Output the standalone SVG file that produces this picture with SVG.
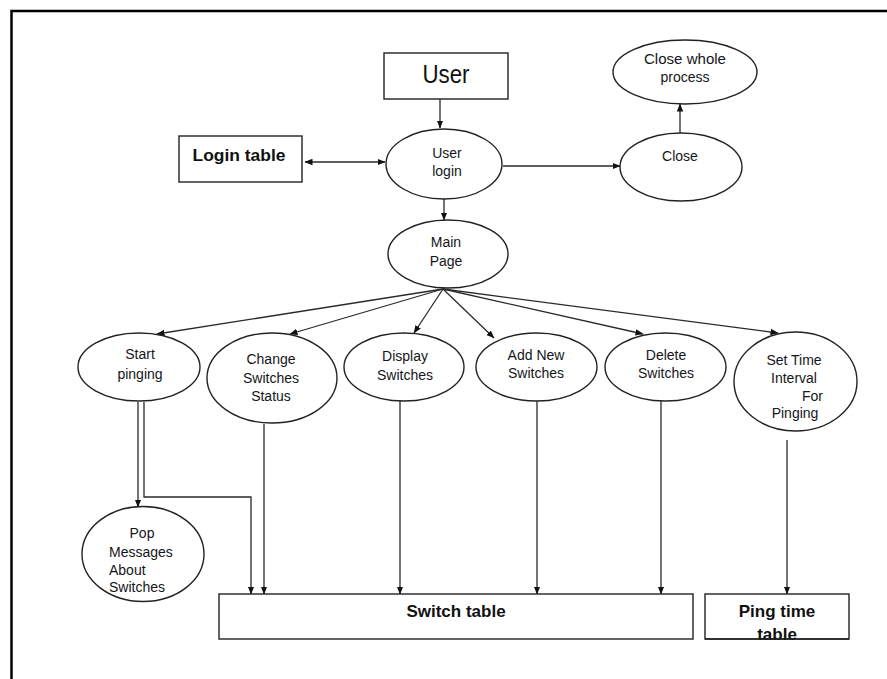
<svg xmlns="http://www.w3.org/2000/svg" width="887" height="679" viewBox="0 0 887 679">
  <defs>
    <marker id="arrow" markerWidth="8" markerHeight="8" refX="7.5" refY="4" orient="auto" markerUnits="userSpaceOnUse">
      <path d="M0,0.8 L8,4 L0,7.2 Z" fill="#111"/>
    </marker>
    <marker id="arrowStart" markerWidth="8" markerHeight="8" refX="0.5" refY="4" orient="auto" markerUnits="userSpaceOnUse">
      <path d="M8,0.8 L0,4 L8,7.2 Z" fill="#111"/>
    </marker>
  </defs>
  <style>
    .frame { fill: none; stroke: #000; stroke-width: 2.5; }
    .box { fill: #fff; stroke: #222; stroke-width: 1.4; }
    .proc { fill: #fff; stroke: #222; stroke-width: 1.4; }
    .lbl { font-family: "Liberation Sans", Arial, sans-serif; font-size: 14px; fill: #151520; text-anchor: middle; }
    .lbl-left { text-anchor: start; }
    .lbl-right { text-anchor: end; }
    .tbl { font-family: "Liberation Sans", Arial, sans-serif; font-size: 17px; font-weight: bold; fill: #111; text-anchor: middle; }
    .big { font-family: "Liberation Sans", Arial, sans-serif; font-size: 25px; fill: #111; text-anchor: middle; }
    .conn { fill: none; stroke: #2a2a2a; stroke-width: 1.3; }
  </style>

  <rect width="887" height="679" fill="#fff"/>
  <!-- page frame -->
  <rect class="frame" x="11.5" y="11" width="900" height="700"/>

  <!-- connectors -->
  <g id="connectors">
    <line class="conn" x1="440" y1="99" x2="440" y2="128" marker-end="url(#arrow)"/>
    <line class="conn" x1="305" y1="162" x2="385" y2="162" marker-start="url(#arrowStart)" marker-end="url(#arrow)"/>
    <line class="conn" x1="503" y1="166" x2="620" y2="166" marker-end="url(#arrow)"/>
    <line class="conn" x1="680" y1="133" x2="680" y2="104" marker-end="url(#arrow)"/>
    <line class="conn" x1="444" y1="199" x2="444" y2="220" marker-end="url(#arrow)"/>
    <!-- fan-out from Main Page -->
    <line class="conn" x1="443" y1="289" x2="157" y2="334" marker-end="url(#arrow)"/>
    <line class="conn" x1="443" y1="289" x2="290" y2="334" marker-end="url(#arrow)"/>
    <line class="conn" x1="443" y1="289" x2="414" y2="333" marker-end="url(#arrow)"/>
    <line class="conn" x1="443" y1="289" x2="494" y2="338" marker-end="url(#arrow)"/>
    <line class="conn" x1="443" y1="289" x2="643" y2="334" marker-end="url(#arrow)"/>
    <line class="conn" x1="443" y1="289" x2="778" y2="333" marker-end="url(#arrow)"/>
    <!-- Start pinging outputs -->
    <line class="conn" x1="138" y1="402" x2="138" y2="507" marker-end="url(#arrow)"/>
    <polyline class="conn" points="144,402 144,497 251,497 251,594" marker-end="url(#arrow)"/>
    <!-- into Switch table -->
    <line class="conn" x1="264" y1="424" x2="264" y2="594" marker-end="url(#arrow)"/>
    <line class="conn" x1="400" y1="401" x2="400" y2="594" marker-end="url(#arrow)"/>
    <line class="conn" x1="537" y1="401" x2="537" y2="594" marker-end="url(#arrow)"/>
    <line class="conn" x1="661" y1="401" x2="661" y2="594" marker-end="url(#arrow)"/>
    <!-- into Ping time table -->
    <line class="conn" x1="787" y1="440" x2="787" y2="594" marker-end="url(#arrow)"/>
  </g>

  <g id="user">
    <rect class="box" x="384" y="53" width="124" height="46"/>
    <text class="big" x="446" y="83" textLength="47" lengthAdjust="spacingAndGlyphs">User</text>
  </g>

  <g id="login-table">
    <rect class="box" x="179" y="136" width="123" height="46"/>
    <text class="tbl" x="239" y="161" textLength="93" lengthAdjust="spacingAndGlyphs">Login table</text>
  </g>

  <g id="user-login">
    <ellipse class="proc" cx="444" cy="164" rx="58" ry="35"/>
    <text class="lbl" x="447" y="158">User</text>
    <text class="lbl" x="447" y="176">login</text>
  </g>

  <g id="close">
    <ellipse class="proc" cx="681" cy="167" rx="61" ry="34"/>
    <text class="lbl" x="680" y="161">Close</text>
  </g>

  <g id="close-whole-process">
    <ellipse class="proc" cx="685" cy="72" rx="72" ry="32"/>
    <text class="lbl" x="685" y="64" textLength="82" lengthAdjust="spacingAndGlyphs">Close whole</text>
    <text class="lbl" x="685" y="82">process</text>
  </g>

  <g id="main-page">
    <ellipse class="proc" cx="448" cy="254" rx="60" ry="34"/>
    <text class="lbl" x="446" y="247">Main</text>
    <text class="lbl" x="446" y="266">Page</text>
  </g>

  <g id="start-pinging">
    <ellipse class="proc" cx="139" cy="367" rx="61" ry="34"/>
    <text class="lbl" x="140" y="359">Start</text>
    <text class="lbl" x="140" y="379">pinging</text>
  </g>

  <g id="change-switches-status">
    <ellipse class="proc" cx="272" cy="378" rx="65" ry="45"/>
    <text class="lbl" x="271" y="364">Change</text>
    <text class="lbl" x="271" y="383">Switches</text>
    <text class="lbl" x="271" y="401">Status</text>
  </g>

  <g id="display-switches">
    <ellipse class="proc" cx="404" cy="367" rx="60" ry="34"/>
    <text class="lbl" x="405" y="361">Display</text>
    <text class="lbl" x="405" y="380">Switches</text>
  </g>

  <g id="add-new-switches">
    <ellipse class="proc" cx="536.5" cy="367" rx="60.5" ry="34"/>
    <text class="lbl" x="536" y="360">Add New</text>
    <text class="lbl" x="536" y="378">Switches</text>
  </g>

  <g id="delete-switches">
    <ellipse class="proc" cx="665.5" cy="367" rx="60.5" ry="34"/>
    <text class="lbl" x="666" y="360">Delete</text>
    <text class="lbl" x="666" y="378">Switches</text>
  </g>

  <g id="set-time-interval">
    <ellipse class="proc" cx="795.5" cy="381.5" rx="61.5" ry="49.5"/>
    <text class="lbl" x="794" y="365">Set Time</text>
    <text class="lbl" x="794" y="383">Interval</text>
    <text class="lbl lbl-right" x="823" y="401">For</text>
    <text class="lbl" x="795" y="418">Pinging</text>
  </g>

  <g id="pop-messages">
    <ellipse class="proc" cx="143" cy="554" rx="61" ry="47.5"/>
    <text class="lbl" x="142" y="538">Pop</text>
    <text class="lbl lbl-left" x="109" y="557">Messages</text>
    <text class="lbl lbl-left" x="109" y="575">About</text>
    <text class="lbl lbl-left" x="109" y="592">Switches</text>
  </g>

  <g id="switch-table">
    <rect class="box" x="219" y="594" width="474" height="45"/>
    <text class="tbl" x="456" y="617">Switch table</text>
  </g>

  <g id="ping-time-table">
    <rect class="box" x="705" y="594" width="144" height="45"/>
    <text class="tbl" x="777" y="617">Ping time</text>
    <text class="tbl" x="777" y="640">table</text>
    <line x1="705" y1="639" x2="849" y2="639" stroke="#222" stroke-width="1.4"/>
  </g>
</svg>
